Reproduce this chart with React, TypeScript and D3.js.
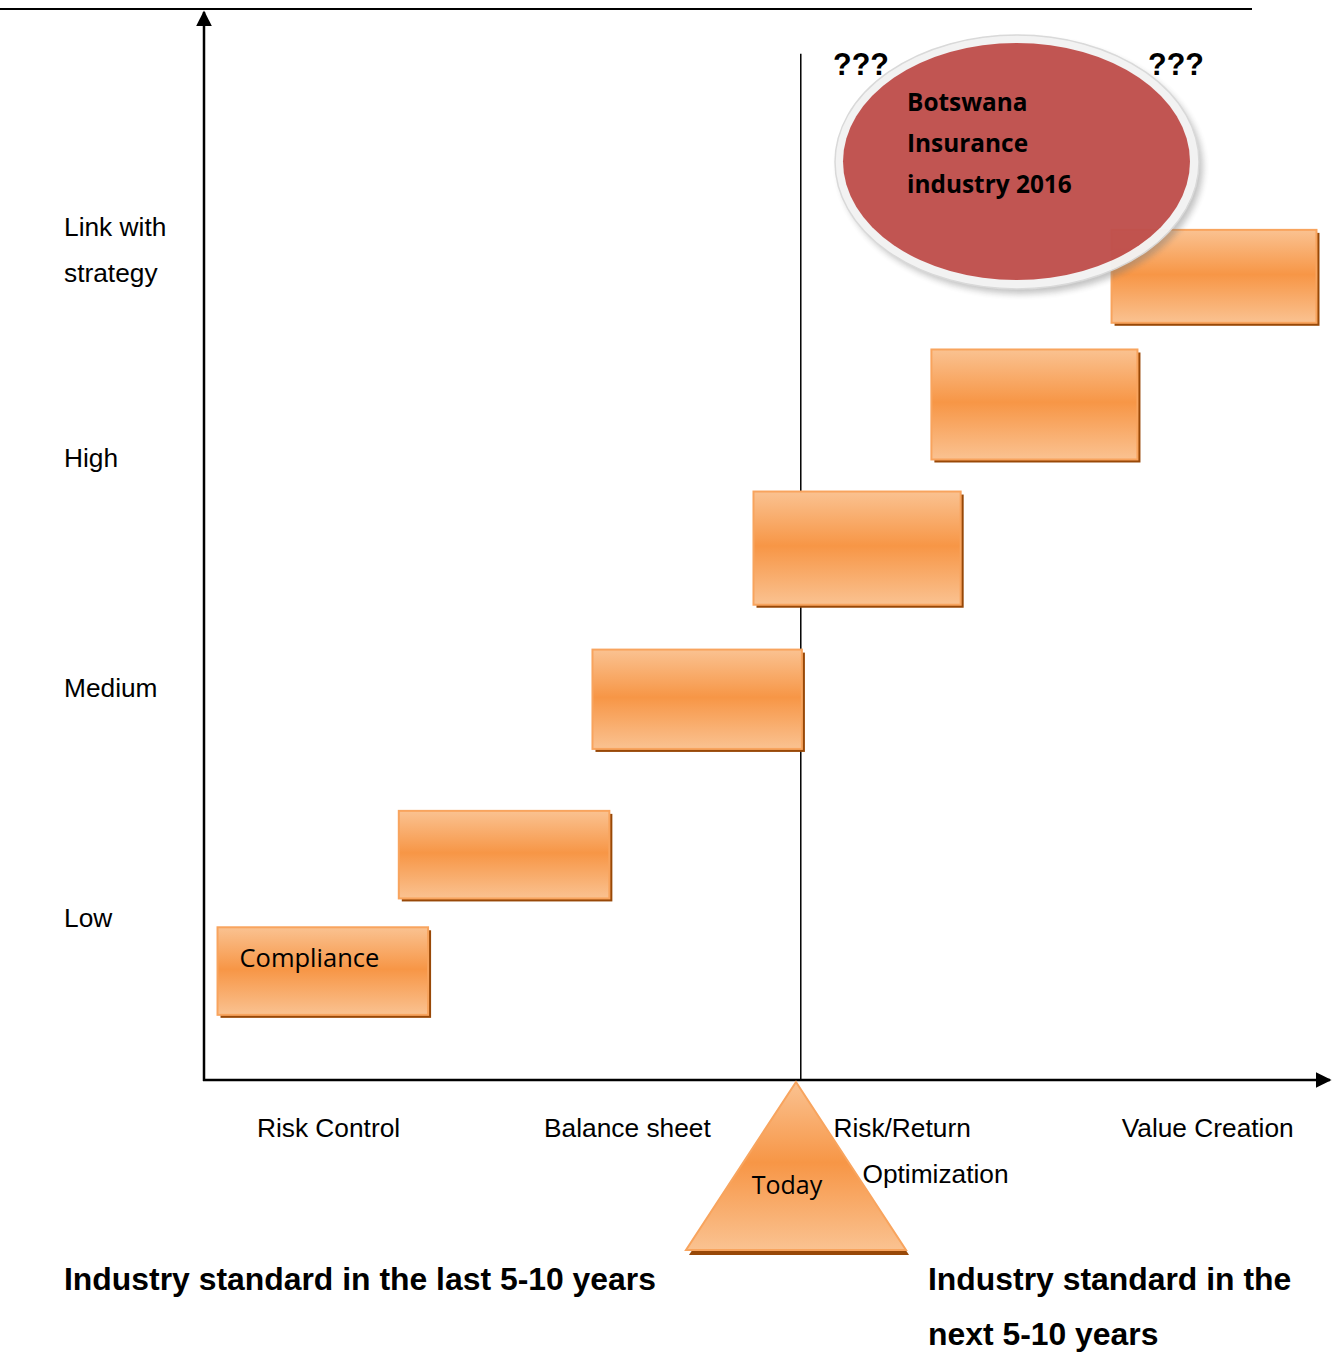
import React from "react";
import * as d3 from "d3";

// Stage boxes: extent in chart units (x: maturity 0-100, y: link with strategy 0-100)
const boxLabels = ["Compliance", "", "", "", "", ""];
const boxX0 = [1.2, 17.3, 34.5, 48.8, 64.6, 80.6];
const boxX1 = [19.9, 36.0, 53.1, 67.2, 82.9, 98.8];
const boxYTop = [14.3, 25.2, 40.3, 55.1, 68.4, 79.6];
const boxYBottom = [6.1, 17.0, 31.0, 44.5, 58.1, 70.9];

const yLabels = [["Link with", "strategy"], ["High"], ["Medium"], ["Low"]];
const yLabelPos = [79.85, 58.2, 36.7, 15.2];

const xLabels = [["Risk Control"], ["Balance sheet"], ["Risk/Return", "Optimization"], ["Value Creation"]];
const xLabelPos = [4.7, 30.2, 55.9, 81.5];

const todayX = 53.0;
const todayTop = 96.1;

const ellipseText = ["Botswana", "Insurance", "industry 2016"];

const W = 1333;
const H = 1353;

export default function App() {
  const x = d3.scaleLinear().domain([0, 100]).range([204, 1330]);
  const y = d3.scaleLinear().domain([0, 100]).range([1080, 12]);
  const xAxisY = y(0);
  const yAxisX = x(0);
  const sans = "'Liberation Sans', Arial, sans-serif";
  const cal = "'Open Sans', sans-serif";

  const triApexX = 796, triApexY = 1082, triBaseY = 1250, triHalf = 110;
  const tri = d3.line()([
    [triApexX, triApexY],
    [triApexX + triHalf, triBaseY],
    [triApexX - triHalf, triBaseY],
  ]) + "Z";

  return (
    <svg width={W} height={H} style={{ position: "absolute", left: 0, top: 0 }}>
      <defs>
        <linearGradient id="og" x1="0" y1="0" x2="0" y2="1">
          <stop offset="0%" stopColor="#FAC291" />
          <stop offset="48%" stopColor="#F79646" />
          <stop offset="100%" stopColor="#FAC291" />
        </linearGradient>
        <filter id="blur" x="-20%" y="-20%" width="140%" height="140%">
          <feGaussianBlur stdDeviation="3" />
        </filter>
        <marker id="arr" viewBox="0 0 10 10" refX="9" refY="5" markerWidth="16" markerHeight="16" markerUnits="userSpaceOnUse" orient="auto">
          <path d="M0,0 L10,5 L0,10 Z" fill="#000" />
        </marker>
      </defs>
      <rect width={W} height={H} fill="#fff" />
      {/* top rule */}
      <line x1={0} x2={1252} y1={9} y2={9} stroke="#000" strokeWidth={2} />
      {/* axes */}
      <line x1={yAxisX} x2={yAxisX} y1={xAxisY + 1} y2={y(100)} stroke="#000" strokeWidth={2.5} markerEnd="url(#arr)" />
      <line x1={yAxisX - 1} x2={x(100)} y1={xAxisY} y2={xAxisY} stroke="#000" strokeWidth={2.5} markerEnd="url(#arr)" />
      {/* today line */}
      <line x1={x(todayX)} x2={x(todayX)} y1={y(todayTop)} y2={xAxisY} stroke="#000" strokeWidth={1.5} />

      {/* boxes */}
      {boxX0.map((v, i) => {
        const bx = x(v), by = y(boxYTop[i]);
        const bw = x(boxX1[i]) - bx, bh = y(boxYBottom[i]) - by;
        return (
          <g key={i}>
            <rect x={bx + 3} y={by + 3} width={bw} height={bh} fill="#984807" />
            <rect x={bx} y={by} width={bw} height={bh} fill="url(#og)" stroke="#F8A45E" strokeWidth={2} />
            {boxLabels[i] && (
              <text x={bx + 22} y={by + 40} fontFamily={cal} fontSize={25.5} fill="#000">
                {boxLabels[i]}
              </text>
            )}
          </g>
        );
      })}

      {/* ellipse */}
      <g opacity={0.97}>
        <ellipse cx={1021} cy={167} rx={182} ry={127} fill="#777" opacity={0.45} filter="url(#blur)" />
        <ellipse cx={1017} cy={162} rx={182} ry={127} fill="#F2F2F2" stroke="#D8D8D8" strokeWidth={1.5} />
        <ellipse cx={1016.5} cy={161.5} rx={173.5} ry={118.5} fill="#C0504D" />
      </g>
      {ellipseText.map((t, i) => (
        <text key={t} x={907} y={111 + i * 41} fontFamily={cal} fontWeight={700} fontSize={24.4} fill="#000">
          {t}
        </text>
      ))}
      <text x={833} y={75} fontFamily={sans} fontWeight={700} fontSize={30.5} fill="#000">???</text>
      <text x={1148} y={75} fontFamily={sans} fontWeight={700} fontSize={30.5} fill="#000">???</text>

      {/* y labels */}
      {yLabels.map((lines, i) =>
        lines.map((t, j) => (
          <text key={t} x={64} y={y(yLabelPos[i]) + 9 + j * 46} fontFamily={sans} fontSize={26.3} fill="#000">
            {t}
          </text>
        ))
      )}

      {/* x labels */}
      {xLabels.map((lines, i) =>
        lines.map((t, j) => (
          <text key={t} x={x(xLabelPos[i]) + j * 29} y={xAxisY + 57 + j * 46} fontFamily={sans} fontSize={26.3} fill="#000">
            {t}
          </text>
        ))
      )}

      {/* today triangle */}
      <path d={tri} transform="translate(3,5)" fill="#984807" />
      <path d={tri} fill="url(#og)" stroke="#F8A45E" strokeWidth={2} strokeLinejoin="miter" />
      <text x={787} y={1194} textAnchor="middle" fontFamily={cal} fontSize={25} fill="#000">Today</text>

      {/* bottom captions */}
      <text x={64} y={1290} fontFamily={sans} fontWeight={700} fontSize={31.9} fill="#000">
        Industry standard in the last 5-10 years
      </text>
      <text x={928} y={1290} fontFamily={sans} fontWeight={700} fontSize={31.9} fill="#000">
        Industry standard in the
      </text>
      <text x={928} y={1345} fontFamily={sans} fontWeight={700} fontSize={31.9} fill="#000">
        next 5-10 years
      </text>
    </svg>
  );
}
